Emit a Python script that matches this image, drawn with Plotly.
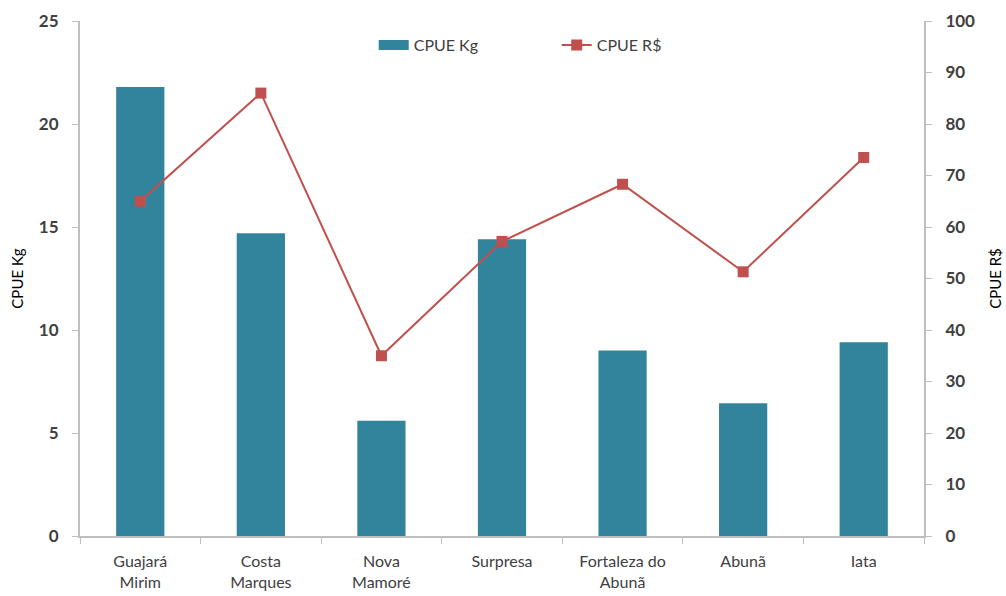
import plotly.graph_objects as go

# Localities along the river and their catch-per-unit-effort figures
locais = ["Guajará<br>Mirim", "Costa<br>Marques", "Nova<br>Mamoré", "Surpresa",
          "Fortaleza do<br>Abunã", "Abunã", "Iata"]
cpue_kg = [21.8, 14.7, 5.6, 14.4, 9.0, 6.45, 9.4]
cpue_rs = [65.0, 86.0, 35.0, 57.2, 68.3, 51.3, 73.5]

kg_ticks = [0, 5, 10, 15, 20, 25]
rs_ticks = [0, 10, 20, 30, 40, 50, 60, 70, 80, 90, 100]

BAR = "#31849B"
LINE = "#C0504D"
AXIS = "#BFBFBF"
TXT = "#404040"
FONT = "Lato, Open Sans, sans-serif"

fig = go.Figure()
fig.add_trace(go.Bar(
    x=locais, y=cpue_kg, name="CPUE Kg",
    marker=dict(color=BAR, line=dict(width=0)),
    yaxis="y", showlegend=False, legendgroup="kg",
))
# wide rectangular legend key for the bar series
fig.add_trace(go.Scatter(
    x=[None], y=[None], name="CPUE Kg", mode="lines",
    line=dict(color=BAR, width=10), legendgroup="kg", yaxis="y",
))
fig.add_trace(go.Scatter(
    x=locais, y=cpue_rs, name="CPUE R$", mode="lines+markers",
    line=dict(color=LINE, width=2),
    marker=dict(symbol="square", size=11, color=LINE),
    yaxis="y2",
))

axis_common = dict(
    showgrid=False, zeroline=False, showline=True, automargin=False,
    linecolor=AXIS, linewidth=2, ticks="outside", ticklen=6,
    tickcolor=AXIS, tickwidth=1,
    tickfont=dict(family=FONT, size=17, color=TXT, weight="bold"),
)

fig.update_layout(
    width=1006, height=596,
    margin=dict(l=80, r=82, t=21, b=60),
    paper_bgcolor="white", plot_bgcolor="white",
    bargap=0.6,
    showlegend=True,
    legend=dict(
        orientation="h", x=0.348, y=0.953, xanchor="left", yanchor="middle",
        font=dict(family=FONT, size=16, color=TXT),
        bgcolor="rgba(0,0,0,0)", entrywidth=138, entrywidthmode="pixels",
    ),
    xaxis=dict(
        showgrid=False, zeroline=False, showline=True, automargin=False,
        linecolor=AXIS, linewidth=2, ticks="outside", ticklen=6,
        tickcolor=AXIS, tickson="boundaries", ticklabelstandoff=10,
        tickfont=dict(family=FONT, size=16, color=TXT),
    ),
    yaxis=dict(
        range=[0, 25], tickvals=kg_ticks,
        title=dict(text="CPUE Kg", font=dict(family=FONT, size=15, color="#000000"), standoff=12),
        ticklabelstandoff=10,
        **axis_common,
    ),
    yaxis2=dict(
        range=[0, 100], tickvals=rs_ticks, overlaying="y", side="right",
        title=dict(text="CPUE R$", font=dict(family=FONT, size=15, color="#000000"), standoff=16),
        ticklabelstandoff=10,
        **axis_common,
    ),
)

fig.write_html("out.html")
